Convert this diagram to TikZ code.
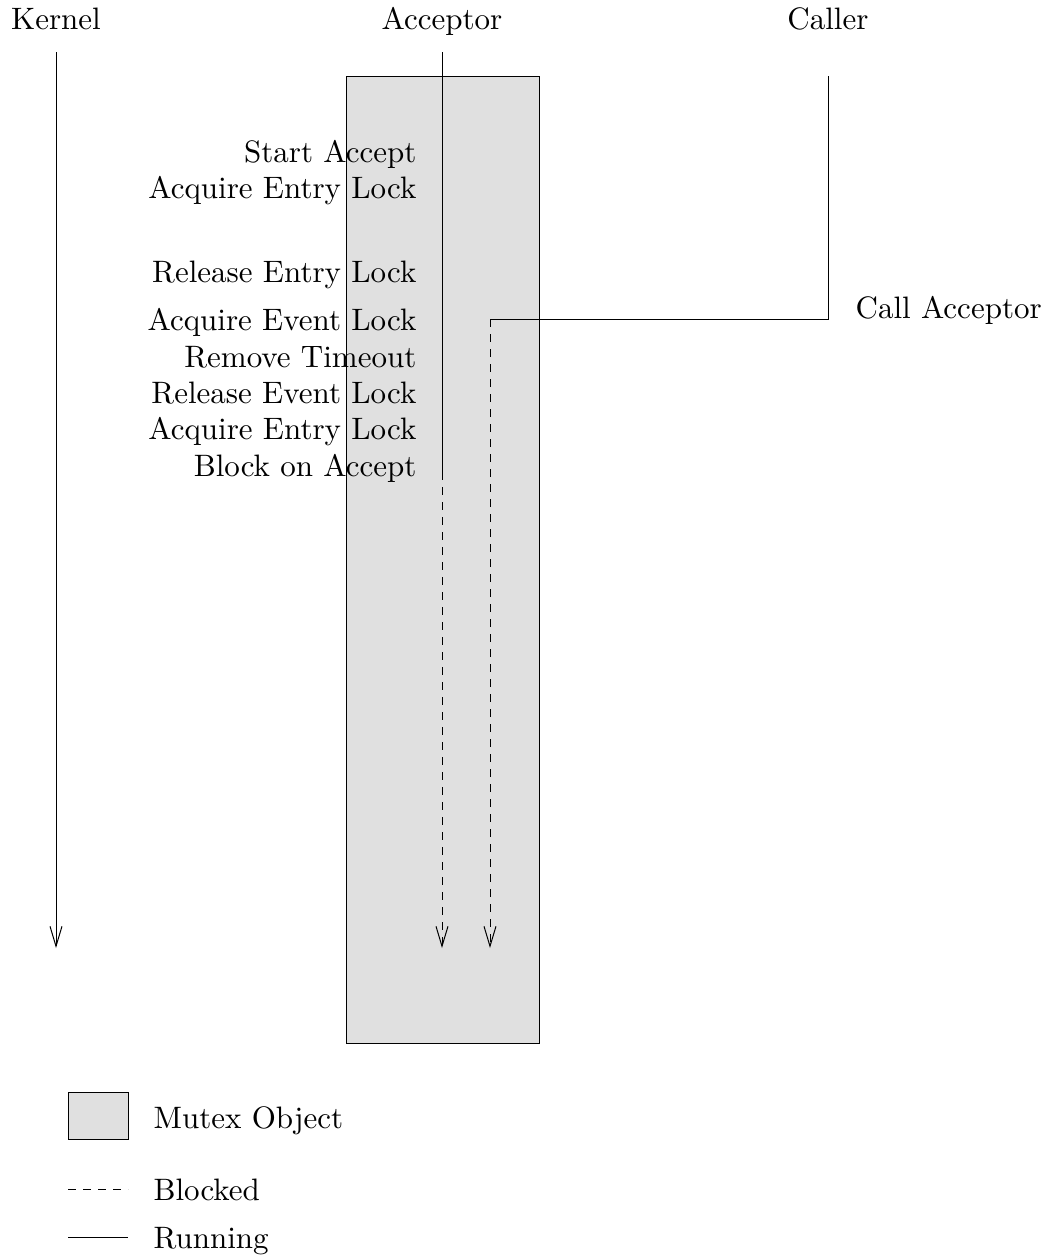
\documentclass[tikz,border=0pt]{standalone}
\usepackage{tikz}
\usetikzlibrary{arrows.meta,positioning}
\definecolor{MutexGray}{HTML}{E0E0E0}

\begin{document}
\begin{tikzpicture}[
    x=0.5pt,
    y=-0.5pt,
    font=\fontsize{10}{12}\selectfont,
    >={Straight Barb[length=10pt,width=6pt]},
    thread/.style={line width=0.5pt},
    blocked/.style={thread, dash pattern=on 4pt off 3.5pt},
    mutex/.style={draw, line width=0.6pt, fill=MutexGray, inner sep=0pt},
    txt/.style={inner sep=0pt, scale=1.55, transform shape},
    head/.style={txt, anchor=base},
    event/.style={txt, anchor=base east},
    label/.style={txt, anchor=base west}
]
\useasboundingbox (0,0) rectangle (1050,1260);

% =====================================================
% MUTEX OBJECT
% =====================================================
\node[
    mutex,
    anchor=north west,
    minimum width=96.5pt,
    minimum height=483.5pt
]
(mutex)
at (346,76)
{};

% =====================================================
% THREAD HEADS
% =====================================================
\node[head] (kernel) at (56,29) {Kernel};
\node[head] (acceptor) at (442,29) {Acceptor};
\node[head] (caller) at (828,29) {Caller};

\coordinate (kernel top) at (56,52);
\coordinate (kernel end) at (56,948);
\coordinate (acc top) at (442,52);
\coordinate (acc block) at (442,472);
\coordinate (acc end) at (442,948);
\coordinate (call top) at (828,76);
\coordinate (call turn) at (828,319);
\coordinate (call join) at (490,319);
\coordinate (call end) at (490,948);

% =====================================================
% THREAD LINES
% =====================================================
\draw[thread, ->] (kernel top) -- (kernel end);

\draw[thread] (acc top) -- (acc block);
\draw[blocked, ->] (acc block) -- (acc end);

\draw[thread] (call top) -- (call turn) -- (call join);
\draw[blocked, ->] (call join) -- (call end);

% =====================================================
% ACCEPTOR EVENTS
% =====================================================
\foreach \y/\txt [count=\i] in {
162/Start Accept,
198/Acquire Entry Lock,
282/Release Entry Lock,
330/Acquire Event Lock,
367/Remove Timeout,
403/Release Event Lock,
439/Acquire Entry Lock,
476/Block on Accept
}{
    \node[event] (ev\i) at (417,\y) {\txt};
}

% caller event
\node[label] (callacc) at (855,318) {Call Acceptor};

% =====================================================
% LEGEND
% =====================================================
\node[
    mutex,
    anchor=north west,
    minimum width=30pt,
    minimum height=23.5pt
]
(legmutex)
at (68,1092)
{};
\node[label] (legmutextxt) at (153,1128) {Mutex Object};

\coordinate (legblocked a) at (68,1189);
\coordinate (legblocked b) at (128,1189);
\draw[blocked] (legblocked a) -- (legblocked b);
\node[label] (legblockedtxt) at (153,1200) {Blocked};

\coordinate (legrunning a) at (68,1237);
\coordinate (legrunning b) at (128,1237);
\draw[thread] (legrunning a) -- (legrunning b);
\node[label] (legrunningtxt) at (153,1248) {Running};

\end{tikzpicture}
\end{document}
